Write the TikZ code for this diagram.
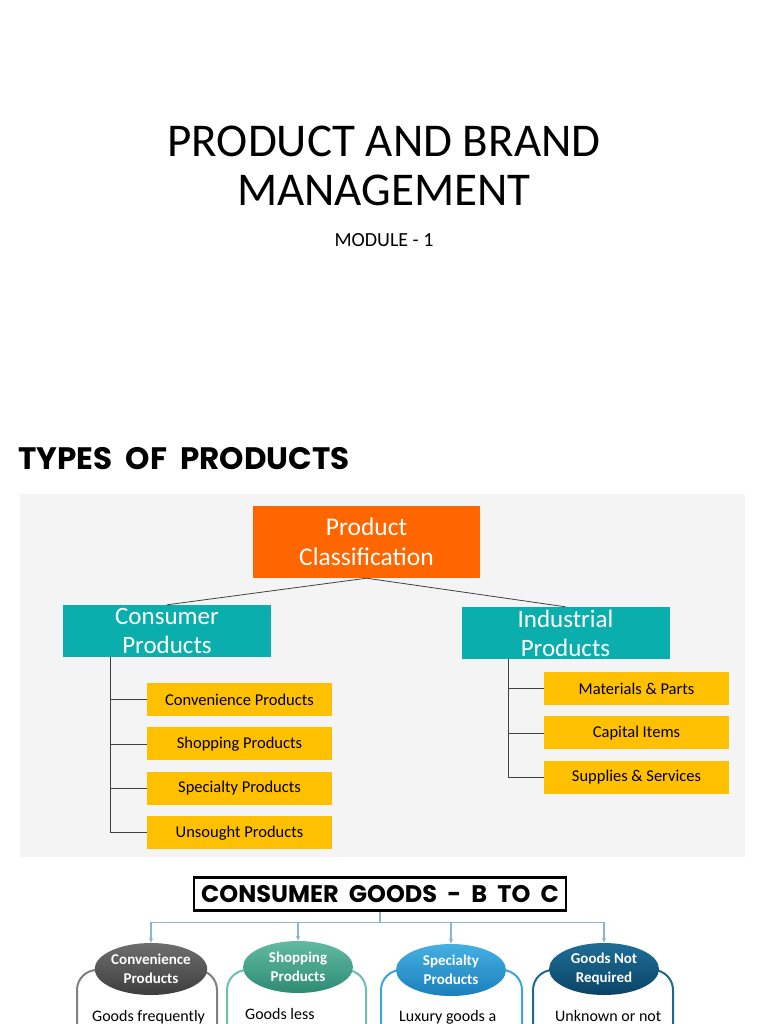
\documentclass[tikz,border=0pt]{standalone}
\usepackage{fontspec}
\setmainfont{Carlito}
\newfontfamily\decofont{Poppins}
\usetikzlibrary{positioning,arrows.meta,shapes.geometric}
\definecolor{panelgray}{HTML}{F4F4F4}
\definecolor{pcorange}{HTML}{FF6600}
\definecolor{tealbox}{HTML}{0AAFAD}
\definecolor{goldbox}{HTML}{FFC000}
\definecolor{busblue}{HTML}{8DB3D6}
\definecolor{convtop}{HTML}{6E6E6E}
\definecolor{convbot}{HTML}{3E3E3E}
\definecolor{convline}{HTML}{808080}
\definecolor{shoptop}{HTML}{62BAA2}
\definecolor{shopbot}{HTML}{2E8B74}
\definecolor{shopline}{HTML}{6CC0AD}
\definecolor{spectop}{HTML}{45B0E2}
\definecolor{specbot}{HTML}{1B7FBB}
\definecolor{specline}{HTML}{3EA5D8}
\definecolor{nreqtop}{HTML}{1F6E97}
\definecolor{nreqbot}{HTML}{0A4466}
\definecolor{nreqline}{HTML}{1E6990}

\begin{document}
\begin{tikzpicture}[
  x=1pt, y=-1pt,
  node distance=11pt and 6pt,
  box/.style={inner sep=0pt, align=center},
  topbox/.style={box, fill=pcorange, text=white, minimum width=227pt, minimum height=72pt, font=\fontsize{25.5}{30}\selectfont},
  grpbox/.style={box, fill=tealbox, text=white, minimum width=208pt, minimum height=52pt, font=\fontsize{25}{29}\selectfont},
  itembox/.style={box, fill=goldbox, minimum width=185pt, minimum height=33pt, font=\fontsize{16.5}{18}\selectfont},
  tree/.style={draw=black!75, line width=0.8pt},
  bus/.style={draw=busblue, line width=1.2pt},
  arr/.style={bus, -{Stealth[length=5pt, width=4pt]}},
  ell/.style={ellipse, inner sep=0pt, text=white, align=center, minimum width=110pt, minimum height=52pt, font=\bfseries\fontsize{15}{19}\selectfont},
  card/.style={line width=2pt, fill=white, rounded corners=20pt},
  body/.style={anchor=base west, inner sep=0pt, font=\fontsize{16}{19}\selectfont},
  deco/.style={font=\decofont\bfseries\fontsize{31}{32}\selectfont, inner sep=0pt}
]
\useasboundingbox (0,0) rectangle (768,1024);
\fill[white] (0,0) rectangle (768,1024);

\node[align=center, font=\fontsize{47}{49}\selectfont] (title) at (384,166) {PRODUCT AND BRAND\\MANAGEMENT};
\node[font=\fontsize{20}{24}\selectfont] (module) at (384,240) {MODULE - 1};

\node[deco, anchor=west] (types) at (18,459) {TYPES\ \ OF\ \ PRODUCTS};

\fill[panelgray] (20,494) rectangle (745,857);

\node[topbox] (pc) at (366.5,542) {Product\\Classification};
\node[grpbox] (cons) at (167,631) {Consumer\\Products};
\node[grpbox] (ind) at (565.5,633) {Industrial\\Products};

\node[itembox] (c1) at (239.5,699.5) {Convenience Products};
\node[itembox, below=of c1] (c2) {Shopping\ Products};
\node[itembox, below=of c2] (c3) {Specialty Products};
\node[itembox, below=of c3] (c4) {Unsought Products};

\node[itembox] (i1) at (636.5,688.5) {Materials \& Parts};
\node[itembox, below=of i1] (i2) {Capital Items};
\node[itembox, below=of i2] (i3) {Supplies \& Services};

\draw[tree] (pc.south) -- (cons.north);
\draw[tree] (pc.south) -- (ind.north);

\coordinate (ctrunk) at ([xshift=48pt]cons.south west);
\coordinate (itrunk) at ([xshift=47pt]ind.south west);
\draw[tree] (ctrunk) |- (c4.west);
\foreach \i in {1,2,3}
  \draw[tree] (c\i.west) -- (c\i.west -| ctrunk);
\draw[tree] (itrunk) |- (i3.west);
\foreach \i in {1,2}
  \draw[tree] (i\i.west) -- (i\i.west -| itrunk);

\node[deco, font=\decofont\bfseries\fontsize{24}{26}\selectfont, draw, line width=2.6pt, fill=white, minimum width=372pt, minimum height=33pt] (cg) at (380,894) {CONSUMER\ \ GOODS\ \ -\ \ B\ \ TO\ \ C};

\draw[card, draw=convline] (77,1030) -- (77,970) -- (217,970) -- (217,1030);
\draw[card, draw=shopline] (227,1030) -- (227,970) -- (366,970) -- (366,1030);
\draw[card, draw=specline] (381,1030) -- (381,970) -- (522,970) -- (522,1030);
\draw[card, draw=nreqline] (533,1030) -- (533,970) -- (673,970) -- (673,1030);

\node[ell, top color=convtop, bottom color=convbot] (e1) at (151,969) {Convenience\\Products};
\node[ell, top color=shoptop, bottom color=shopbot] (e2) at (298,967) {Shopping\\Products};
\node[ell, top color=spectop, bottom color=specbot] (e3) at (451,970) {Specialty\\Products};
\node[ell, top color=nreqtop, bottom color=nreqbot] (e4) at (604,969) {Goods Not\\Required};

\coordinate (hub) at ([yshift=-11pt]cg.south);
\draw[bus] (cg.south) -- (hub);
\foreach \e in {e1,e2,e3,e4}
  \draw[arr] (hub) -| (\e.north);

\node[body] (t1) at (92,1021) {Goods frequently};
\node[body] (t2) at (245,1019) {Goods less};
\node[body] (t3) at (399,1021) {Luxury goods a};
\node[body] (t4) at (555,1021) {Unknown or not};
\end{tikzpicture}
\end{document}
